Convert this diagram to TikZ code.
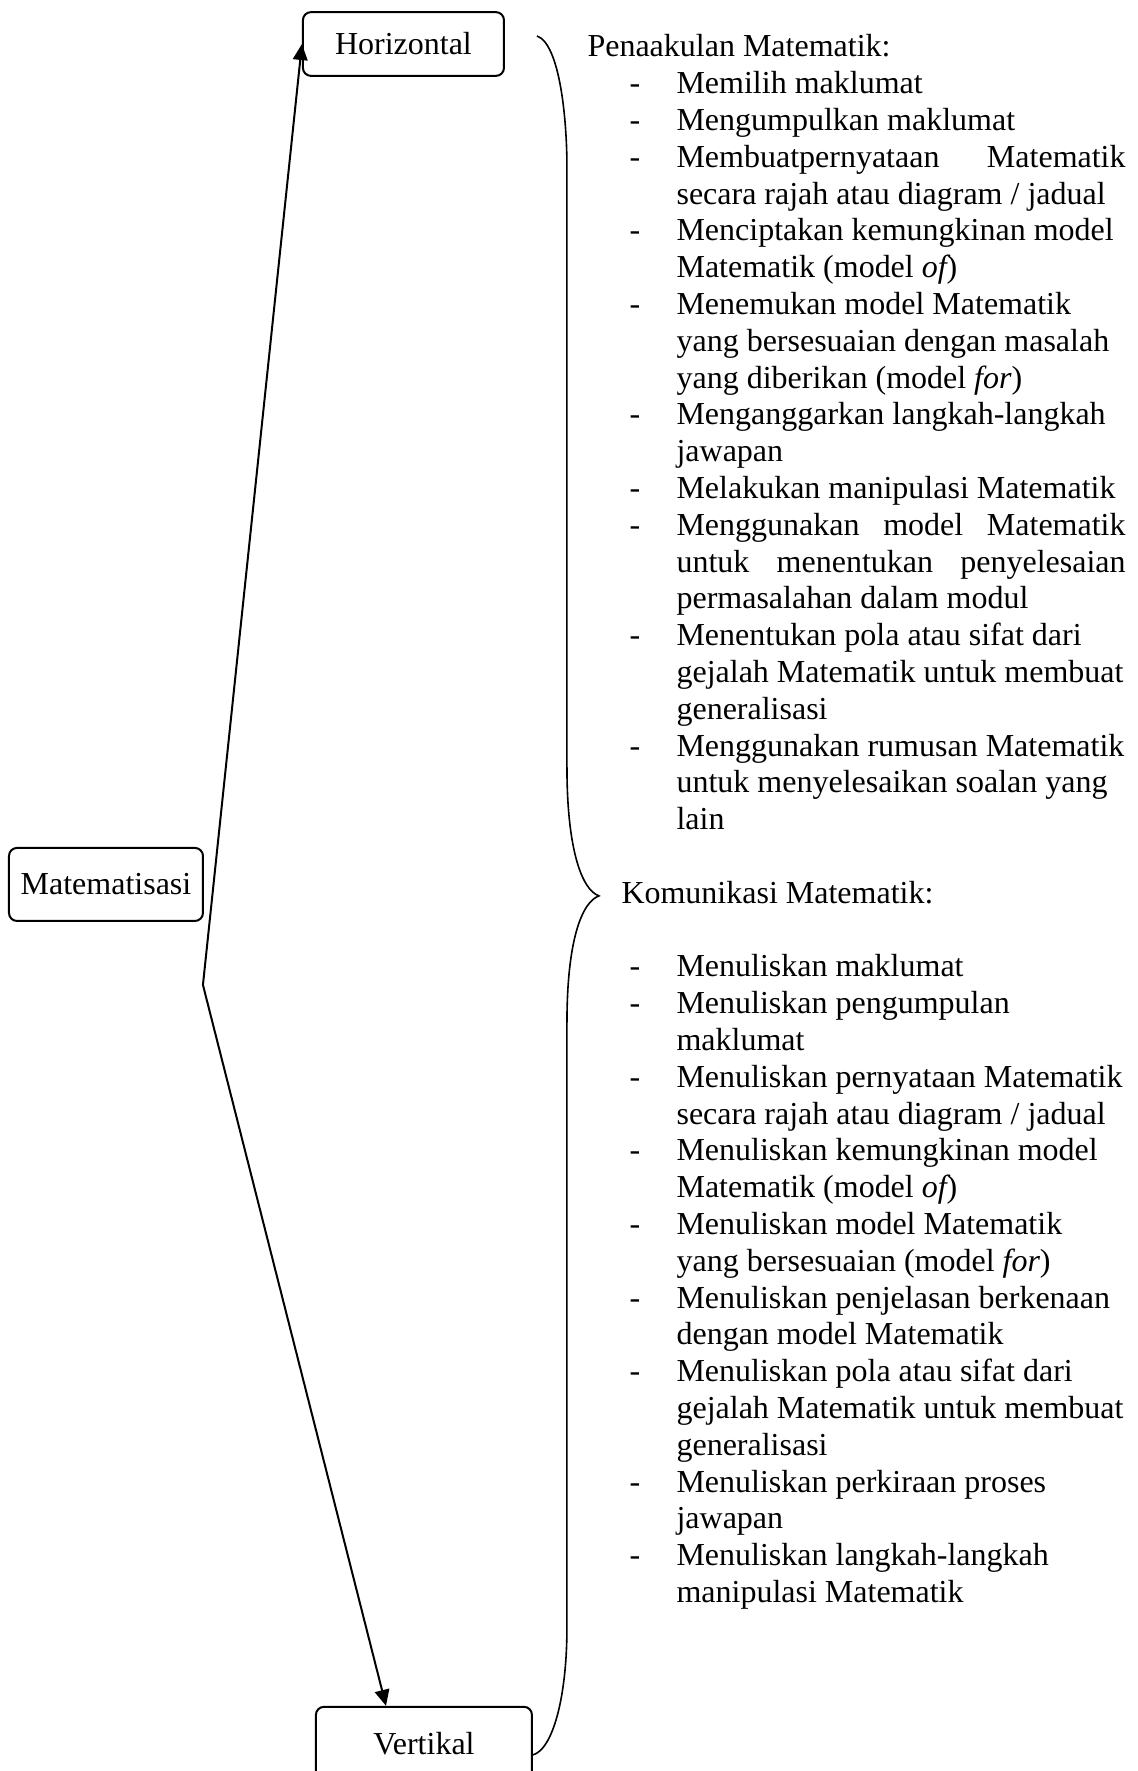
\documentclass[tikz,border=0pt]{standalone}
\usepackage{fontspec}
\setmainfont{Liberation Serif}
\usepackage{array}
\usetikzlibrary{arrows.meta}
\newcolumntype{D}{@{\hspace{15.75pt}}p{17.65pt}@{}}
\newcolumntype{T}{p{168.4pt}@{}}
\newcommand{\jl}[1]{\makebox[\linewidth][s]{#1}}

\begin{document}
\begin{tikzpicture}[font=\fontsize{12}{13.8}\selectfont,
  box/.style={draw,rounded corners=3pt,line width=0.75pt,inner sep=2pt},
  ar/.style={-{Triangle[length=6pt,width=5.5pt]},line width=0.75pt},
  brc/.style={line width=0.6pt},
  txt/.style={inner sep=0pt,anchor=base west}]
\useasboundingbox (0,0) rectangle (15,-23.344);
\node[box,minimum width=2.65cm,minimum height=0.84cm] (hz) at (5.318,-0.580) {Horizontal};
\node[box,minimum width=2.557cm,minimum height=0.962cm] (mt) at (1.397,-11.658) {Matematisasi};
\node[box,minimum width=2.847cm,minimum height=0.962cm] (vt) at (5.588,-22.979) {Vertikal};
\coordinate (v) at (2.675,-12.982);
\draw[ar] (v) -- (hz.west);
\draw[ar] (v) -- ([xshift=-5mm]vt.north);
% brace
\draw[brc] (7.078,-0.474) .. controls (7.381,-0.580) and (7.473,-1.582) .. (7.473,-2.201)
  -- (7.473,-10.109) .. controls (7.473,-11.203) and (7.671,-11.730) .. (7.895,-11.809)
  .. controls (7.671,-11.888) and (7.473,-12.389) .. (7.473,-13.483)
  -- (7.473,-21.444) .. controls (7.473,-22.406) and (7.275,-23.065) .. (7.025,-23.131);
% lists
\node[txt] (pen) at (7.737,-0.751) {\begin{tabular}[t]{DT}
\multicolumn{2}{@{}l@{}}{Penaakulan Matematik:}\\
- & Memilih maklumat\\
- & Mengumpulkan maklumat\\
- & \jl{Membuatpernyataan Matematik}\\
  & secara rajah atau diagram / jadual\\
- & Menciptakan kemungkinan model\\
  & Matematik (model {\itshape of})\\
- & Menemukan model Matematik\\
  & yang bersesuaian dengan masalah\\
  & yang diberikan (model {\itshape for})\\
- & Menganggarkan langkah-langkah\\
  & jawapan\\
- & Melakukan manipulasi Matematik\\
- & \jl{Menggunakan model Matematik}\\
  & \jl{untuk menentukan penyelesaian}\\
  & permasalahan dalam modul\\
- & Menentukan pola atau sifat dari\\
  & gejalah Matematik untuk membuat\\
  & generalisasi\\
- & Menggunakan rumusan Matematik\\
  & untuk menyelesaikan soalan yang\\
  & lain
\end{tabular}};
\node[txt] (kom) at (7.737,-11.907) {\begin{tabular}[t]{DT}
\multicolumn{2}{@{\hspace{12.75pt}}l@{}}{Komunikasi Matematik:}\\
  & \\
- & Menuliskan maklumat\\
- & Menuliskan pengumpulan\\
  & maklumat\\
- & Menuliskan pernyataan Matematik\\
  & secara rajah atau diagram / jadual\\
- & Menuliskan kemungkinan model\\
  & Matematik (model {\itshape of})\\
- & Menuliskan model Matematik\\
  & yang bersesuaian (model {\itshape for})\\
- & Menuliskan penjelasan berkenaan\\
  & dengan model Matematik\\
- & Menuliskan pola atau sifat dari\\
  & gejalah Matematik untuk membuat\\
  & generalisasi\\
- & Menuliskan perkiraan proses\\
  & jawapan\\
- & Menuliskan langkah-langkah\\
  & manipulasi Matematik
\end{tabular}};
\end{tikzpicture}
\end{document}
